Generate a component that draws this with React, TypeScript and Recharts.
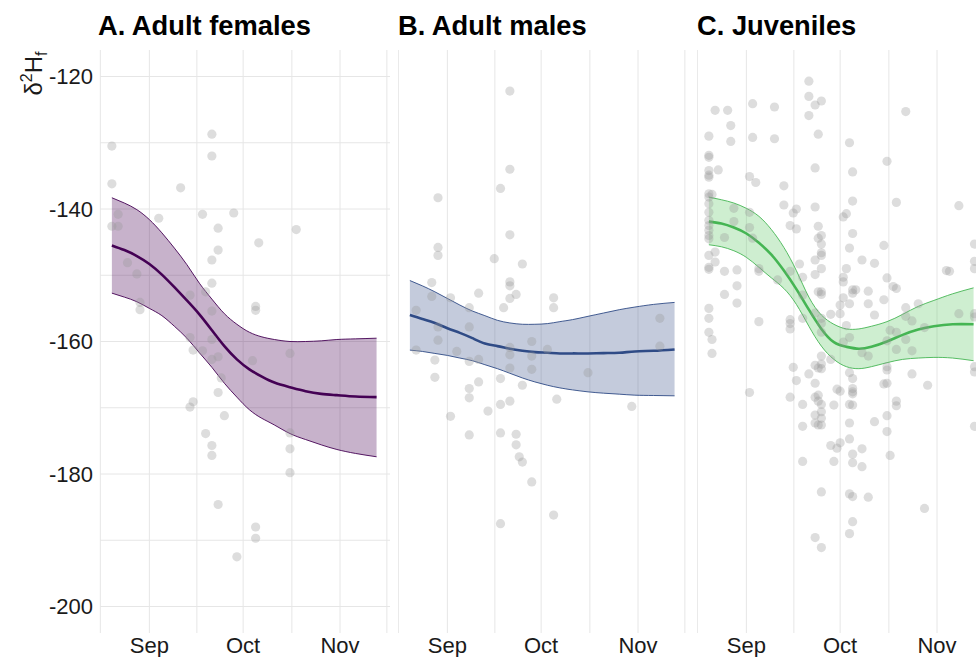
import { ComposedChart, Scatter, Area, Line, XAxis, YAxis, CartesianGrid } from 'recharts';

// days are counted from 1 September
const curveDays = [-12, -8, -4, 0, 4, 8, 12, 16, 20, 24, 28, 32, 36, 40, 45, 50, 55, 60, 66, 72.7];

const femalesFit = [-145.5, -146.2, -147.1, -148.3, -149.9, -151.8, -153.8, -155.9, -158.3, -160.7, -162.7, -164.2, -165.3, -166.2, -166.9, -167.5, -167.9, -168.1, -168.3, -168.4];
const femalesHi = [-138.3, -139.1, -140.1, -141.6, -143.6, -145.9, -148.4, -151.2, -153.6, -155.8, -157.4, -158.6, -159.3, -159.7, -160.0, -160.0, -159.9, -159.7, -159.6, -159.5];
const femalesLo = [-152.7, -153.3, -154.0, -155.0, -156.1, -157.7, -159.5, -161.7, -163.9, -166.3, -168.4, -170.3, -171.6, -172.6, -173.9, -174.8, -175.6, -176.3, -176.9, -177.4];

const malesFit = [-156.0, -156.6, -157.2, -158.0, -158.7, -159.5, -160.3, -160.7, -161.1, -161.4, -161.6, -161.7, -161.8, -161.8, -161.8, -161.75, -161.7, -161.5, -161.4, -161.2];
const malesHi = [-150.8, -151.6, -152.5, -153.5, -154.5, -155.4, -156.1, -156.8, -157.2, -157.4, -157.4, -157.3, -157.0, -156.7, -156.2, -155.7, -155.2, -154.8, -154.4, -154.1];
const malesLo = [-161.3, -161.5, -161.8, -162.1, -162.5, -162.9, -163.5, -164.1, -164.8, -165.5, -166.1, -166.6, -167.0, -167.3, -167.6, -167.8, -167.95, -168.1, -168.15, -168.2];

const juvFit = [-141.9, -142.2, -142.8, -143.7, -145.1, -146.9, -149.3, -152.1, -155.2, -158.1, -160.1, -160.8, -161.1, -160.8, -160.0, -159.0, -158.2, -157.7, -157.4, -157.4];
const juvHi = [-138.2, -138.6, -139.1, -139.9, -141.1, -143.1, -145.8, -149.3, -153.3, -156.0, -157.4, -158.1, -158.1, -157.7, -157.0, -155.9, -154.7, -153.8, -152.8, -151.9];
const juvLo = [-145.4, -145.7, -146.3, -147.3, -148.8, -150.4, -152.0, -154.4, -157.7, -160.7, -162.7, -163.8, -164.1, -163.8, -163.2, -162.7, -162.5, -162.4, -162.5, -162.9];

const femalesPts: [number, number][] = [
  [-12, -130.5], [20, -128.7], [20, -132.0], [-12, -136.2], [10, -136.8], [-10, -140.8], [-12, -142.6], [-10, -142.6],
  [3, -141.4], [17, -140.8], [27, -140.6], [22, -142.9], [47, -143.1], [35, -145.1], [22, -146.2], [20, -147.7],
  [-7, -148.1], [-4, -149.8], [20, -151.2], [13, -153.0], [18, -152.5], [-3, -154.1], [-3, -155.2], [20, -155.4],
  [34, -154.7], [34, -155.3], [13, -159.4], [14, -161.3], [17, -161.4], [20, -159.7], [20, -162.7], [22, -162.3],
  [33, -162.9], [45, -161.8], [23, -165.5], [22, -167.7], [13, -169.9], [14, -169.1], [24, -171.2], [18, -173.9],
  [20, -175.7], [20, -177.2], [45, -173.8], [45, -176.2], [45, -179.8], [22, -184.6], [34, -188.0], [34, -189.7],
  [28, -192.5],
];

const malesPts: [number, number][] = [
  [20, -122.2], [20, -134.0], [17, -136.9], [-3, -138.3], [20, -143.9], [-3, -145.8], [-3, -147.0], [15, -147.5],
  [24, -148.3], [-5, -151.1], [20, -151.0], [20, -151.6], [10, -152.7], [-5, -153.2], [1, -153.4], [22, -152.9],
  [20, -153.5], [34, -153.4], [34, -154.9], [7, -154.9], [18, -154.9], [-10, -155.3], [68, -156.5], [-3, -157.8],
  [7, -157.8], [-3, -159.8], [-10, -161.3], [3, -161.5], [27, -160.0], [32, -161.2], [20, -160.9], [20, -162.0],
  [27, -162.2], [68, -160.7], [-4, -162.8], [7, -163.0], [10, -162.7], [20, -164.0], [27, -164.2], [45, -164.7],
  [-4, -165.4], [17, -165.6], [10, -166.1], [24, -166.6], [7, -167.1], [7, -168.5], [35, -168.7], [17, -169.5],
  [20, -169.0], [59, -169.8], [13, -170.5], [1, -171.3], [7, -174.1], [17, -173.8], [22, -174.0], [22, -175.6],
  [23, -177.4], [24, -178.2], [27, -181.2], [34, -186.2], [17, -187.5],
];

const juvPts: [number, number][] = [
  [20, -120.7], [20, -123.0], [22, -124.3], [24, -123.7], [20, -125.9], [23, -128.7], [2, -124.1], [9, -124.6],
  [-10, -125.1], [-6, -125.1], [-5, -127.4], [-12, -129.0], [-5, -129.8], [2, -129.2], [9, -129.4], [51, -125.3],
  [33, -130.0], [45, -132.8], [-12, -131.9], [-12, -132.2], [-12, -134.2], [-12, -134.9], [-12, -135.2], [-9, -134.1],
  [22, -133.8], [34, -134.4], [1, -135.1], [3, -136.0], [12, -136.5], [-12, -137.7], [-12, -138.2], [-12, -139.2],
  [-12, -140.5], [-11, -137.8], [-4, -139.9], [1, -140.5], [12, -139.4], [15, -140.6], [16, -140.0], [22, -139.7],
  [34, -138.8], [48, -139.0], [68, -139.5], [31, -141.2], [32, -140.7], [-12, -141.7], [-12, -142.5], [-12, -143.2],
  [-12, -144.0], [-12, -144.5], [-4, -141.9], [1, -142.8], [2, -144.4], [-7, -144.3], [14, -142.5], [16, -143.0],
  [23, -142.6], [23, -144.4], [24, -144.0], [34, -143.7], [24, -145.3], [33, -145.9], [44, -145.5], [73, -145.3],
  [-12, -147.0], [-10, -146.5], [-10, -148.0], [-12, -148.8], [-12, -149.1], [-7, -149.4], [-3, -149.2], [4, -149.0],
  [4, -149.4], [24, -146.6], [24, -147.0], [22, -147.7], [24, -149.0], [37, -147.7], [41, -148.2], [32, -149.0],
  [17, -148.3], [14, -149.4], [10, -150.7], [22, -149.9], [31, -150.3], [45, -150.4], [64, -149.3], [65, -149.4],
  [73, -147.9], [73, -149.0], [18, -150.3], [31, -151.0], [47, -151.7], [48, -152.0], [-3, -151.6], [-7, -152.9],
  [-3, -154.2], [-12, -155.0], [-12, -156.5], [-12, -158.6], [-11, -159.7], [-11, -161.8], [4, -157.0], [14, -156.7],
  [14, -157.3], [14, -158.1], [18, -153.0], [18, -156.5], [23, -152.5], [24, -152.5], [24, -152.9], [22, -155.7],
  [24, -156.5], [24, -157.3], [24, -158.6], [27, -155.9], [30, -154.5], [30, -155.8], [31, -153.4], [34, -152.2],
  [34, -152.7], [35, -152.2], [39, -152.4], [33, -154.3], [39, -154.3], [41, -156.0], [44, -153.7], [32, -157.6],
  [33, -159.4], [31, -160.1], [46, -158.3], [48, -158.6], [51, -154.9], [51, -156.2], [53, -156.9], [55, -154.3],
  [57, -157.9], [51, -159.7], [53, -161.4], [45, -159.9], [48, -161.2], [68, -155.8], [73, -155.8], [73, -156.3],
  [37, -161.7], [39, -162.2], [24, -162.2], [24, -163.4], [24, -164.1], [22, -163.6], [23, -164.0], [15, -163.9],
  [27, -162.7], [33, -164.7], [34, -165.6], [20, -164.9], [16, -165.9], [45, -163.8], [45, -164.3], [45, -166.3],
  [44, -166.4], [53, -164.9], [58, -166.6], [22, -166.3], [73, -163.8], [73, -164.6], [29, -167.2], [30, -167.5],
  [34, -167.1], [34, -167.6], [34, -167.9], [1, -167.7], [14, -168.4], [22, -168.4], [23, -168.1], [23, -169.0],
  [24, -169.5], [18, -169.5], [28, -169.6], [33, -169.5], [34, -169.6], [48, -169.0], [48, -169.7], [45, -171.2],
  [22, -171.1], [24, -170.6], [24, -171.6], [22, -172.3], [23, -172.6], [24, -172.6], [33, -172.3], [41, -172.1],
  [18, -172.8], [45, -173.6], [73, -172.8], [33, -174.7], [27, -175.7], [29, -176.1], [30, -175.3], [37, -176.2],
  [34, -177.0], [46, -177.2], [18, -178.1], [28, -178.1], [34, -178.3], [37, -178.9], [24, -182.7], [33, -183.0],
  [34, -183.4], [39, -183.5], [57, -185.2], [34, -187.2], [33, -189.0], [22, -189.6], [24, -191.1],
];

const xTicks = [-15.7, 0, 15.2, 30, 45.6, 61, 76];
const monthLabels: Record<string, string> = { '0': 'Sep', '30': 'Oct', '61': 'Nov' };
const yTicks = [-200, -190, -180, -170, -160, -150, -140, -130, -120];

const FONT = '"Liberation Sans", Arial, Helvetica, sans-serif';

const Dot = (props: any) => (
  <circle cx={props.cx} cy={props.cy} r={4.6} fill="#999999" fillOpacity={0.33} />
);

interface PanelProps {
  left: number;
  points: [number, number][];
  fit: number[];
  lo: number[];
  hi: number[];
  color: string;
  lineColor: string;
  showY?: boolean;
}

const Panel = ({ left, points, fit, lo, hi, color, lineColor, showY }: PanelProps) => {
  const curve = curveDays.map((d, i) => ({ d, fit: fit[i], band: [lo[i], hi[i]] }));
  const pts = points.map(([d, v]) => ({ d, v }));
  const yW = showY ? 100 : 0;
  return (
    <div style={{ position: 'absolute', left, top: 0 }}>
      <ComposedChart width={290 + yW} height={657} data={curve} margin={{ top: 50, right: 0, bottom: 0, left: 0 }}>
        <CartesianGrid stroke="#e6e6e6" strokeWidth={1} syncWithTicks />
        <XAxis
          type="number"
          dataKey="d"
          domain={[-15.8, 77]}
          allowDataOverflow
          ticks={xTicks}
          interval={0}
          tickFormatter={(v: number) => monthLabels[String(v)] ?? ''}
          tickLine={false}
          axisLine={false}
          tickSize={0}
          tickMargin={4}
          height={24}
          tick={{ fontSize: 22, fill: '#1a1a1a', fontFamily: FONT }}
        />
        <YAxis
          type="number"
          domain={[-204, -116]}
          allowDataOverflow
          ticks={yTicks}
          interval={0}
          width={yW}
          tick={showY ? { fontSize: 22, fill: '#1a1a1a', fontFamily: FONT } : false}
          tickFormatter={(v: number) => (v % 20 === 0 ? String(v) : '')}
          tickLine={false}
          axisLine={false}
          tickSize={0}
          tickMargin={7}
        />
        <Scatter data={pts} dataKey="v" shape={Dot} isAnimationActive={false} />
        <Area
          type="natural"
          dataKey="band"
          stroke={lineColor}
          strokeWidth={0.9}
          fill={color}
          fillOpacity={0.3}
          isAnimationActive={false}
          activeDot={false}
        />
        <Line
          type="natural"
          dataKey="fit"
          stroke={lineColor}
          strokeWidth={2.6}
          dot={false}
          activeDot={false}
          isAnimationActive={false}
        />
      </ComposedChart>
    </div>
  );
};

export default function App() {
  return (
    <div style={{ position: 'absolute', left: 0, top: 0, width: 976, height: 657, overflow: 'hidden', background: '#fff' }}>
      <Panel left={0} points={femalesPts} fit={femalesFit} lo={femalesLo} hi={femalesHi} color="#440154" lineColor="#440154" showY />
      <Panel left={398} points={malesPts} fit={malesFit} lo={malesLo} hi={malesHi} color="#3B528B" lineColor="#2f4b86" />
      <Panel left={697} points={juvPts} fit={juvFit} lo={juvLo} hi={juvHi} color="#5DC863" lineColor="#45b553" />
      <svg width={976} height={657} style={{ position: 'absolute', left: 0, top: 0, pointerEvents: 'none' }}>
        <g fontFamily={FONT} fontWeight="bold" fontSize={27.3} fill="#000">
          <text x={98} y={35}>A. Adult females</text>
          <text x={398} y={35}>B. Adult males</text>
          <text x={697} y={35}>C. Juveniles</text>
        </g>
        <text transform="translate(41.5,73.5) rotate(-90)" textAnchor="middle" fontFamily={FONT} fontSize={24} fill="#1a1a1a">
          δ<tspan dy={-9.5} fontSize={16}>2</tspan>
          <tspan dy={9.5}>H</tspan>
          <tspan dy={5} fontSize={16}>f</tspan>
        </text>
      </svg>
    </div>
  );
}
